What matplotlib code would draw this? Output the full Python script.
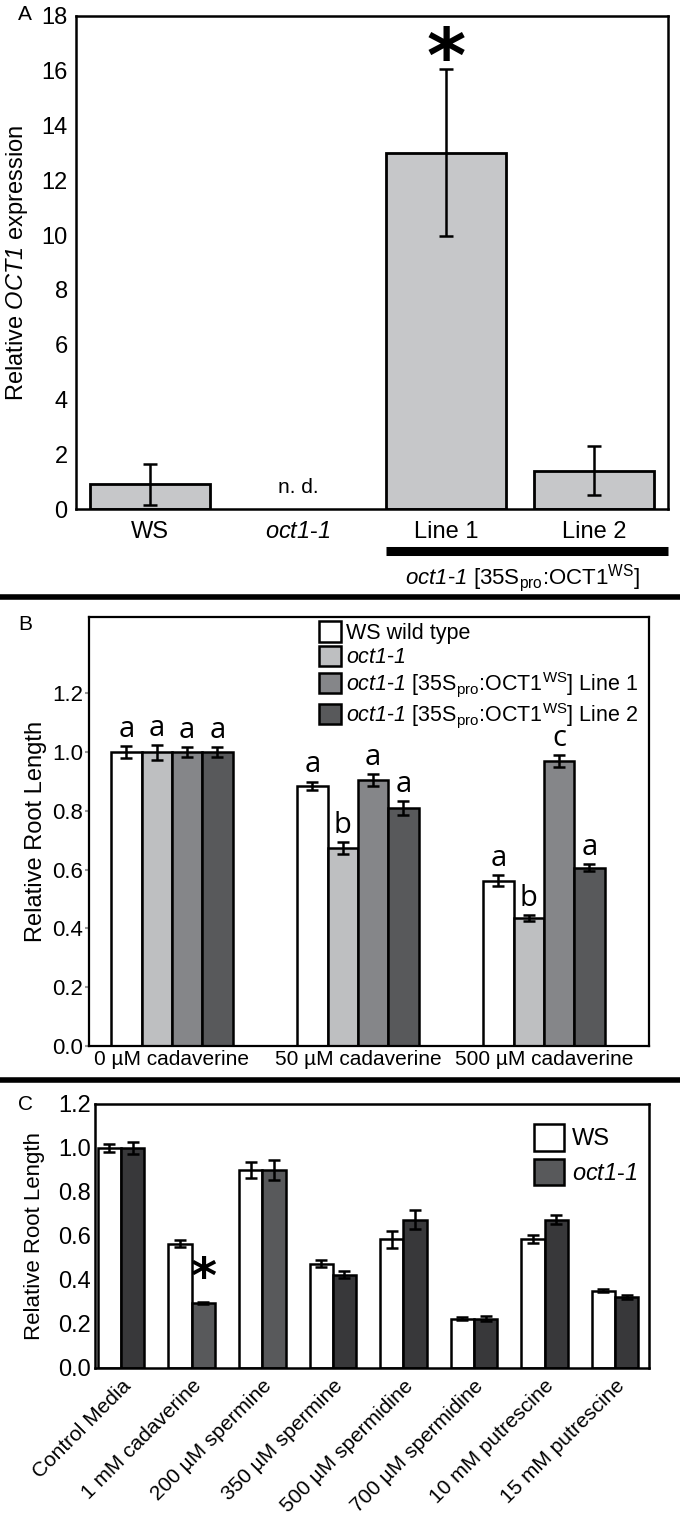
import matplotlib
matplotlib.use('Agg')
import matplotlib.pyplot as plt
import matplotlib.transforms as mtransforms
from matplotlib import font_manager
from matplotlib.patches import Patch
from matplotlib.lines import Line2D
import numpy as np

W, H = 680, 1517

installed = {f.name for f in font_manager.fontManager.ttflist}
NARROW = 'Liberation Sans Narrow' if 'Liberation Sans Narrow' in installed else 'Liberation Sans'
plt.rcParams['font.family'] = [NARROW, 'DejaVu Sans']
plt.rcParams['mathtext.fontset'] = 'custom'
plt.rcParams['mathtext.rm'] = NARROW
plt.rcParams['mathtext.it'] = NARROW + ':italic'
# \mathcal used as "italic with italic digits"
plt.rcParams['mathtext.cal'] = NARROW + ':italic'

# ---- data ----
# A: relative OCT1 expression (oct1-1 not detected)
a_labels = ['WS', 'oct1-1', 'Line 1', 'Line 2']
a_vals = [0.9, None, 13.0, 1.4]
a_err = [0.75, None, 3.05, 0.9]

# B: relative root length on cadaverine
b_groups = ['0 µM cadaverine', '50 µM cadaverine', '500 µM cadaverine']
b_ws = [1.0, 0.885, 0.563]
b_oct = [1.0, 0.675, 0.437]
b_line1 = [1.0, 0.905, 0.97]
b_line2 = [1.0, 0.81, 0.607]
b_ws_err = [0.02, 0.015, 0.018]
b_oct_err = [0.025, 0.02, 0.01]
b_line1_err = [0.017, 0.02, 0.02]
b_line2_err = [0.017, 0.025, 0.012]
b_letters = [['a', 'a', 'a', 'a'], ['a', 'b', 'a', 'a'], ['a', 'b', 'c', 'a']]

# C: relative root length on polyamines
c_groups = ['Control Media', '1 mM cadaverine', '200 µM spermine', '350 µM spermine',
            '500 µM spermidine', '700 µM spermidine', '10 mM putrescine', '15 mM putrescine']
c_ws = [1.0, 0.565, 0.9, 0.475, 0.585, 0.225, 0.585, 0.352]
c_oct = [1.0, 0.297, 0.9, 0.425, 0.675, 0.225, 0.675, 0.322]
c_ws_err = [0.02, 0.015, 0.035, 0.015, 0.038, 0.008, 0.018, 0.008]
c_oct_err = [0.028, 0.005, 0.045, 0.018, 0.045, 0.012, 0.022, 0.008]

OCT = r'$\mathcal{oct1}$-$\mathcal{1}$'
CONSTRUCT = OCT + r' [35S$_{\rm pro}$:OCT1$^{\rm WS}$]'


def px_rect(left, top, right, bottom):
    return [left / W, 1 - bottom / H, (right - left) / W, (bottom - top) / H]


fig = plt.figure(figsize=(W / 100, H / 100), dpi=100)

# ================= Panel A =================
ax = fig.add_axes(px_rect(76, 16, 668, 509))
xa = np.arange(len(a_labels))
idx = [i for i, v in enumerate(a_vals) if v is not None]
ax.bar(xa[idx], [a_vals[i] for i in idx], width=0.81, color='#c6c7c9',
       edgecolor='black', linewidth=2, zorder=2)
ax.errorbar(xa[idx], [a_vals[i] for i in idx], yerr=[a_err[i] for i in idx],
            fmt='none', ecolor='black', elinewidth=1.8, capsize=5, capthick=1.8, zorder=3)
ax.set_xlim(-0.5, 3.5)
ax.set_ylim(0, 18)
ax.set_yticks(range(0, 19, 2))
ax.set_xticks(xa)
ax.set_xticklabels(['WS', OCT, 'Line 1', 'Line 2'])
ax.tick_params(axis='y', length=0, labelsize=17, pad=6)
ax.tick_params(axis='x', length=0, labelsize=17, pad=9)
for s in ax.spines.values():
    s.set_linewidth(1.8)
ax.set_ylabel(r'Relative $\mathcal{OCT1}$ expression', fontsize=17,
              fontfamily='Liberation Sans')
ax.yaxis.set_label_coords(-0.078, 0.5)
ax.text(1, 0.45, 'n. d.', ha='center', va='bottom', fontsize=15)
ax.text(2, 15.0, '*', ha='center', va='bottom', fontsize=54, fontweight='bold',
        fontfamily='DejaVu Sans')
trans = mtransforms.blended_transform_factory(ax.transData, ax.transAxes)
ax.plot([2 - 0.405, 3.5], [-0.085, -0.085], color='black', lw=6.5,
        transform=trans, clip_on=False, solid_capstyle='butt')
ax.text(2.52, -0.14, CONSTRUCT, transform=trans, ha='center', va='center', fontsize=16)
fig.text(18 / W, 1 - 15 / H, 'A', fontsize=15, fontfamily='Liberation Sans', va='center')

fig.add_artist(Line2D([0, 1], [1 - 597 / H] * 2, color='black', lw=4))

# ================= Panel B =================
ax = fig.add_axes(px_rect(89, 617, 649, 1046))
xb = np.arange(len(b_groups))
bw = 0.163
b_vals = [b_ws, b_oct, b_line1, b_line2]
b_errs = [b_ws_err, b_oct_err, b_line1_err, b_line2_err]
b_colors = ['white', '#bebfc1', '#858689', '#58595b']
for i in range(4):
    pos = xb + (i - 1.5) * bw
    ax.bar(pos, b_vals[i], width=bw, color=b_colors[i], edgecolor='black',
           linewidth=1.8, zorder=2)
    ax.errorbar(pos, b_vals[i], yerr=b_errs[i], fmt='none', ecolor='black',
                elinewidth=1.8, capsize=4, capthick=1.8, zorder=3)
    for g in range(len(b_groups)):
        ax.text(pos[g], b_vals[i][g] + b_errs[i][g] + 0.007, b_letters[g][i],
                ha='center', va='bottom', fontsize=21, fontfamily='Open Sans')
ax.set_xlim(-0.446, 2.565)
ax.set_ylim(0, 1.46)
ax.set_yticks(np.arange(0, 1.21, 0.2))
ax.set_yticklabels(['%.1f' % v for v in np.arange(0, 1.21, 0.2)])
ax.set_xticks(xb)
ax.set_xticklabels(b_groups)
ax.tick_params(axis='y', length=3, color='#999999', width=1.5, labelsize=16, pad=1)
ax.tick_params(axis='x', length=0, labelsize=15, pad=3)
for s in ax.spines.values():
    s.set_linewidth(1.6)
ax.set_ylabel('Relative Root Length', fontsize=17, fontfamily='Liberation Sans')
ax.yaxis.set_label_coords(-0.075, 0.5)
b_handles = [Patch(facecolor=c, edgecolor='black', linewidth=1.8) for c in b_colors]
ax.legend(b_handles, ['WS wild type', OCT, CONSTRUCT + ' Line 1', CONSTRUCT + ' Line 2'],
          loc='upper left', bbox_to_anchor=(0.40, 1.005), frameon=False,
          fontsize=15.5, handlelength=1.0, handleheight=1.1, handletextpad=0.25,
          labelspacing=0.08, borderpad=0.15, borderaxespad=0.15)
fig.text(18 / W, 1 - 625 / H, 'B', fontsize=15, fontfamily='Liberation Sans', va='center')

fig.add_artist(Line2D([0, 1], [1 - 1080 / H] * 2, color='black', lw=4))

# ================= Panel C =================
ax = fig.add_axes(px_rect(95, 1104, 649, 1368))
xc = np.arange(len(c_groups))
cw = 0.33
oct_colors = ['#38383a', '#58595b', '#58595b', '#38383a', '#38383a', '#38383a',
              '#38383a', '#38383a']
ax.bar(xc - cw / 2, c_ws, width=cw, color='white', edgecolor='black', linewidth=1.8, zorder=2)
ax.bar(xc + cw / 2, c_oct, width=cw, color=oct_colors, edgecolor='black', linewidth=1.8, zorder=2)
ax.errorbar(xc - cw / 2, c_ws, yerr=c_ws_err, fmt='none', ecolor='black',
            elinewidth=1.8, capsize=4, capthick=1.8, zorder=3)
ax.errorbar(xc + cw / 2, c_oct, yerr=c_oct_err, fmt='none', ecolor='black',
            elinewidth=1.8, capsize=4, capthick=1.8, zorder=3)
ax.text(1 + cw / 2, c_oct[1] + 0.0, '*', ha='center', va='bottom', fontsize=36,
        fontweight='bold', fontfamily='DejaVu Sans')
ax.set_xlim(-0.37, 7.48)
ax.set_ylim(0, 1.2)
ax.set_yticks(np.arange(0, 1.21, 0.2))
ax.set_yticklabels(['%.1f' % v for v in np.arange(0, 1.21, 0.2)])
ax.set_xticks(xc)
ax.set_xticklabels(c_groups, rotation=45, ha='right', rotation_mode='anchor',
                   fontfamily='Liberation Sans')
offset = mtransforms.ScaledTranslation(0.12, 0, fig.dpi_scale_trans)
for lbl in ax.get_xticklabels():
    lbl.set_transform(lbl.get_transform() + offset)
ax.tick_params(axis='y', length=0, labelsize=17, pad=3)
ax.tick_params(axis='x', length=0, labelsize=15, pad=6)
for s in ax.spines.values():
    s.set_linewidth(1.8)
ax.set_ylabel('Relative Root Length', fontsize=16, fontfamily='Liberation Sans')
ax.yaxis.set_label_coords(-0.09, 0.5)
c_handles = [Patch(facecolor='white', edgecolor='black', linewidth=1.8),
             Patch(facecolor='#58595b', edgecolor='black', linewidth=1.8)]
ax.legend(c_handles, ['WS', OCT], loc='upper left',
          bbox_to_anchor=(0.775, 0.96), frameon=False, fontsize=17,
          handlelength=1.3, handleheight=1.35, handletextpad=0.3, labelspacing=0.35,
          borderpad=0.2, borderaxespad=0.2)
fig.text(18 / W, 1 - 1105 / H, 'C', fontsize=15, fontfamily='Liberation Sans', va='center')

fig.savefig('out.png', dpi=100)
